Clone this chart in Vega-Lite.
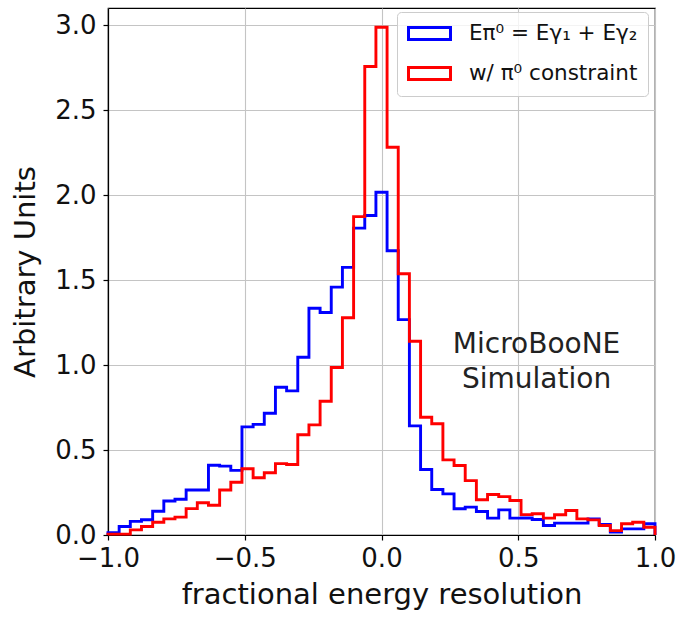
{
  "$schema": "https://vega.github.io/schema/vega-lite/v6.json",
  "width": 547,
  "height": 527,
  "autosize": {"type": "none"},
  "padding": {"left": 108, "top": 8, "right": 25, "bottom": 82},
  "background": "white",
  "config": {
    "view": {"stroke": "black", "strokeWidth": 1.2},
    "font": "DejaVu Sans",
    "axis": {
      "labelFont": "DejaVu Sans",
      "titleFont": "DejaVu Sans",
      "labelFontSize": 26,
      "titleFontSize": 29,
      "titleFontWeight": "normal",
      "labelColor": "#111111",
      "titleColor": "#111111",
      "domainColor": "black",
      "domainWidth": 1.2,
      "tickColor": "black",
      "tickWidth": 1.2,
      "tickSize": 5,
      "gridColor": "#c4c4c4",
      "gridWidth": 1.1
    }
  },
  "datasets": {
    "hist": [
      {"s": "a", "i": 0, "x": -1.0, "y": 0},
      {"s": "a", "i": 1, "x": -1.0, "y": 0.013},
      {"s": "a", "i": 2, "x": -0.9592, "y": 0.05},
      {"s": "a", "i": 3, "x": -0.9184, "y": 0.08},
      {"s": "a", "i": 4, "x": -0.8776, "y": 0.09},
      {"s": "a", "i": 5, "x": -0.8367, "y": 0.14},
      {"s": "a", "i": 6, "x": -0.7959, "y": 0.20},
      {"s": "a", "i": 7, "x": -0.7551, "y": 0.21},
      {"s": "a", "i": 8, "x": -0.7143, "y": 0.265},
      {"s": "a", "i": 9, "x": -0.6735, "y": 0.265},
      {"s": "a", "i": 10, "x": -0.6327, "y": 0.41},
      {"s": "a", "i": 11, "x": -0.5918, "y": 0.405},
      {"s": "a", "i": 12, "x": -0.5510, "y": 0.38},
      {"s": "a", "i": 13, "x": -0.5102, "y": 0.636},
      {"s": "a", "i": 14, "x": -0.4694, "y": 0.651},
      {"s": "a", "i": 15, "x": -0.4286, "y": 0.716},
      {"s": "a", "i": 16, "x": -0.3878, "y": 0.869},
      {"s": "a", "i": 17, "x": -0.3469, "y": 0.848},
      {"s": "a", "i": 18, "x": -0.3061, "y": 1.046},
      {"s": "a", "i": 19, "x": -0.2653, "y": 1.334},
      {"s": "a", "i": 20, "x": -0.2245, "y": 1.309},
      {"s": "a", "i": 21, "x": -0.1837, "y": 1.458},
      {"s": "a", "i": 22, "x": -0.1429, "y": 1.574},
      {"s": "a", "i": 23, "x": -0.1020, "y": 1.805},
      {"s": "a", "i": 24, "x": -0.0612, "y": 1.879},
      {"s": "a", "i": 25, "x": -0.0204, "y": 2.016},
      {"s": "a", "i": 26, "x": 0.0204, "y": 1.672},
      {"s": "a", "i": 27, "x": 0.0612, "y": 1.267},
      {"s": "a", "i": 28, "x": 0.1020, "y": 0.642},
      {"s": "a", "i": 29, "x": 0.1429, "y": 0.385},
      {"s": "a", "i": 30, "x": 0.1837, "y": 0.268},
      {"s": "a", "i": 31, "x": 0.2245, "y": 0.242},
      {"s": "a", "i": 32, "x": 0.2653, "y": 0.154},
      {"s": "a", "i": 33, "x": 0.3061, "y": 0.164},
      {"s": "a", "i": 34, "x": 0.3469, "y": 0.138},
      {"s": "a", "i": 35, "x": 0.3878, "y": 0.099},
      {"s": "a", "i": 36, "x": 0.4286, "y": 0.148},
      {"s": "a", "i": 37, "x": 0.4694, "y": 0.099},
      {"s": "a", "i": 38, "x": 0.5102, "y": 0.10},
      {"s": "a", "i": 39, "x": 0.5510, "y": 0.091},
      {"s": "a", "i": 40, "x": 0.5918, "y": 0.056},
      {"s": "a", "i": 41, "x": 0.6327, "y": 0.07},
      {"s": "a", "i": 42, "x": 0.6735, "y": 0.07},
      {"s": "a", "i": 43, "x": 0.7143, "y": 0.07},
      {"s": "a", "i": 44, "x": 0.7551, "y": 0.095},
      {"s": "a", "i": 45, "x": 0.7959, "y": 0.062},
      {"s": "a", "i": 46, "x": 0.8367, "y": 0.017},
      {"s": "a", "i": 47, "x": 0.8776, "y": 0.036},
      {"s": "a", "i": 48, "x": 0.9184, "y": 0.036},
      {"s": "a", "i": 49, "x": 0.9592, "y": 0.066},
      {"s": "a", "i": 50, "x": 1.0, "y": 0.066},
      {"s": "a", "i": 51, "x": 1.0, "y": 0},
      {"s": "b", "i": 0, "x": -1.0, "y": 0},
      {"s": "b", "i": 1, "x": -1.0, "y": 0.005},
      {"s": "b", "i": 2, "x": -0.9592, "y": 0.005},
      {"s": "b", "i": 3, "x": -0.9184, "y": 0.03},
      {"s": "b", "i": 4, "x": -0.8776, "y": 0.05},
      {"s": "b", "i": 5, "x": -0.8367, "y": 0.075},
      {"s": "b", "i": 6, "x": -0.7959, "y": 0.095},
      {"s": "b", "i": 7, "x": -0.7551, "y": 0.105},
      {"s": "b", "i": 8, "x": -0.7143, "y": 0.155},
      {"s": "b", "i": 9, "x": -0.6735, "y": 0.19},
      {"s": "b", "i": 10, "x": -0.6327, "y": 0.175},
      {"s": "b", "i": 11, "x": -0.5918, "y": 0.265},
      {"s": "b", "i": 12, "x": -0.5510, "y": 0.31},
      {"s": "b", "i": 13, "x": -0.5102, "y": 0.39},
      {"s": "b", "i": 14, "x": -0.4694, "y": 0.337},
      {"s": "b", "i": 15, "x": -0.4286, "y": 0.366},
      {"s": "b", "i": 16, "x": -0.3878, "y": 0.42},
      {"s": "b", "i": 17, "x": -0.3469, "y": 0.415},
      {"s": "b", "i": 18, "x": -0.3061, "y": 0.59},
      {"s": "b", "i": 19, "x": -0.2653, "y": 0.648},
      {"s": "b", "i": 20, "x": -0.2245, "y": 0.787},
      {"s": "b", "i": 21, "x": -0.1837, "y": 0.985},
      {"s": "b", "i": 22, "x": -0.1429, "y": 1.278},
      {"s": "b", "i": 23, "x": -0.1020, "y": 1.873},
      {"s": "b", "i": 24, "x": -0.0612, "y": 2.756},
      {"s": "b", "i": 25, "x": -0.0204, "y": 2.987},
      {"s": "b", "i": 26, "x": 0.0204, "y": 2.281},
      {"s": "b", "i": 27, "x": 0.0612, "y": 1.537},
      {"s": "b", "i": 28, "x": 0.1020, "y": 1.14},
      {"s": "b", "i": 29, "x": 0.1429, "y": 0.693},
      {"s": "b", "i": 30, "x": 0.1837, "y": 0.654},
      {"s": "b", "i": 31, "x": 0.2245, "y": 0.442},
      {"s": "b", "i": 32, "x": 0.2653, "y": 0.409},
      {"s": "b", "i": 33, "x": 0.3061, "y": 0.32},
      {"s": "b", "i": 34, "x": 0.3469, "y": 0.207},
      {"s": "b", "i": 35, "x": 0.3878, "y": 0.238},
      {"s": "b", "i": 36, "x": 0.4286, "y": 0.226},
      {"s": "b", "i": 37, "x": 0.4694, "y": 0.203},
      {"s": "b", "i": 38, "x": 0.5102, "y": 0.12},
      {"s": "b", "i": 39, "x": 0.5510, "y": 0.125},
      {"s": "b", "i": 40, "x": 0.5918, "y": 0.099},
      {"s": "b", "i": 41, "x": 0.6327, "y": 0.119},
      {"s": "b", "i": 42, "x": 0.6735, "y": 0.144},
      {"s": "b", "i": 43, "x": 0.7143, "y": 0.095},
      {"s": "b", "i": 44, "x": 0.7551, "y": 0.089},
      {"s": "b", "i": 45, "x": 0.7959, "y": 0.056},
      {"s": "b", "i": 46, "x": 0.8367, "y": 0.026},
      {"s": "b", "i": 47, "x": 0.8776, "y": 0.066},
      {"s": "b", "i": 48, "x": 0.9184, "y": 0.075},
      {"s": "b", "i": 49, "x": 0.9592, "y": 0.046},
      {"s": "b", "i": 50, "x": 1.0, "y": 0.046},
      {"s": "b", "i": 51, "x": 1.0, "y": 0}
    ],
    "note": [
      {"x": 0.567, "y": 1.12, "label": "MicroBooNE\nSimulation"}
    ]
  },
  "layer": [
    {
      "data": {"name": "hist"},
      "mark": {"type": "line", "interpolate": "step-after", "strokeWidth": 2.9, "clip": false},
      "encoding": {
        "x": {
          "field": "x", "type": "quantitative",
          "scale": {"domain": [-1, 1], "nice": false, "zero": false},
          "axis": {
            "values": [-1, -0.5, 0, 0.5, 1],
            "format": ".1f",
            "title": "fractional energy resolution",
            "labelPadding": 5,
            "titlePadding": 9,
            "labelFlush": false,
            "grid": true
          }
        },
        "y": {
          "field": "y", "type": "quantitative",
          "scale": {"domain": [0, 3.1], "nice": false},
          "axis": {
            "values": [0, 0.5, 1, 1.5, 2, 2.5, 3],
            "format": ".1f",
            "title": "Arbitrary Units",
            "labelPadding": 7,
            "titlePadding": 14,
            "grid": true
          }
        },
        "order": {"field": "i", "type": "quantitative"},
        "color": {
          "field": "s", "type": "nominal",
          "scale": {"domain": ["a", "b"], "range": ["#0000ff", "#ff0000"]},
          "legend": {
            "title": null,
            "orient": "none",
            "legendX": 289,
            "legendY": 4,
            "labelExpr": "datum.label == 'a' ? 'Eπ⁰ = Eγ₁ + Eγ₂' : 'w/ π⁰ constraint'",
            "labelFont": "DejaVu Sans",
            "labelFontSize": 21.5,
            "labelColor": "#111111",
            "labelLimit": 400,
            "labelOffset": 39,
            "symbolType": "M-1,-0.6H3.2V0.6H-1Z",
            "symbolSize": 400,
            "symbolStrokeWidth": 3,
            "symbolFillColor": "transparent",
            "rowPadding": 15,
            "padding": 10,
            "fillColor": "rgba(255,255,255,0.8)",
            "strokeColor": "#cccccc",
            "cornerRadius": 4
          }
        }
      }
    },
    {
      "data": {"name": "note"},
      "mark": {"type": "text", "fontSize": 28, "font": "DejaVu Sans", "align": "center", "baseline": "middle", "lineBreak": "\n", "lineHeight": 35, "color": "#222222"},
      "encoding": {
        "x": {"field": "x", "type": "quantitative"},
        "y": {"field": "y", "type": "quantitative"},
        "text": {"field": "label"}
      }
    }
  ]
}
